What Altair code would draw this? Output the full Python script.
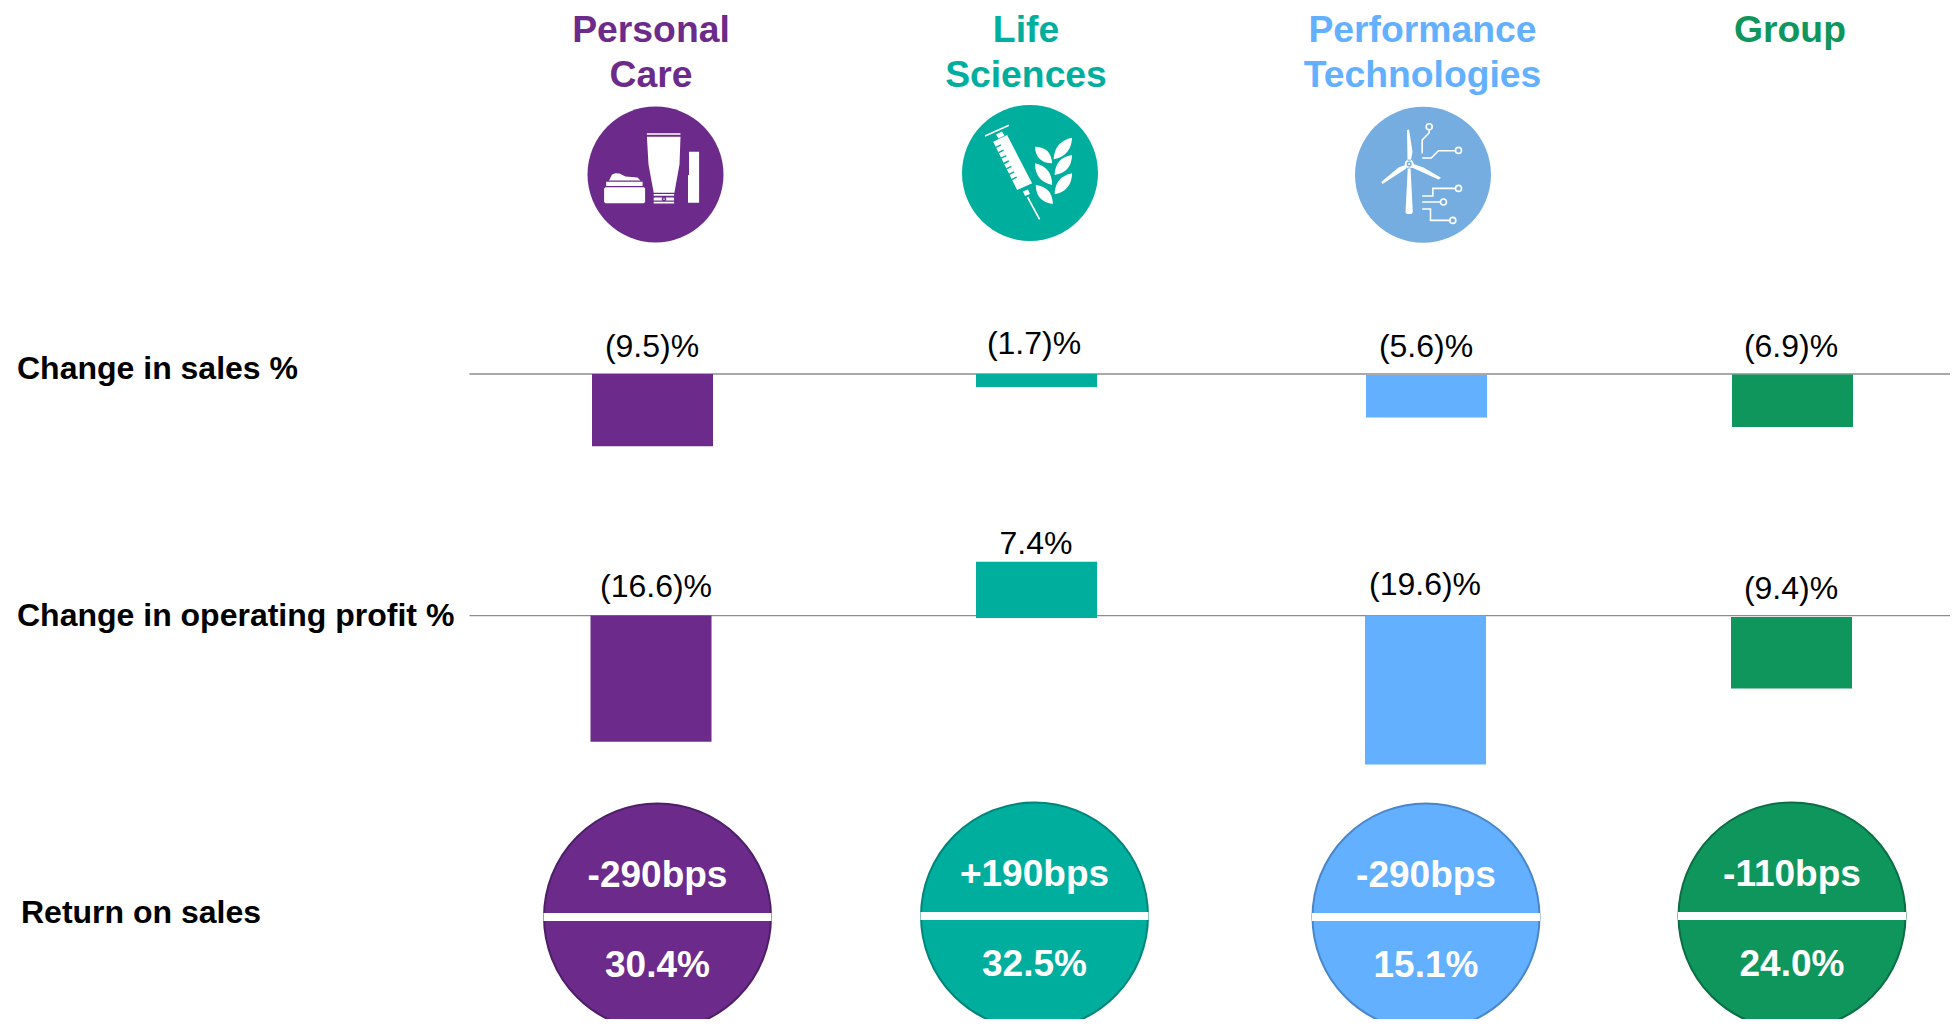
import math
import altair as alt
import pandas as pd

# ---- values ----
SEGMENTS = ["Personal Care", "Life Sciences", "Performance Technologies", "Group"]
TITLES = ["Personal\nCare", "Life\nSciences", "Performance\nTechnologies", "Group"]
SALES_CHANGE = [-9.5, -1.7, -5.6, -6.9]
SALES_TEXT = ["(9.5)%", "(1.7)%", "(5.6)%", "(6.9)%"]
PROFIT_CHANGE = [-16.6, 7.4, -19.6, -9.4]
PROFIT_TEXT = ["(16.6)%", "7.4%", "(19.6)%", "(9.4)%"]
BPS_TEXT = ["-290bps", "+190bps", "-290bps", "-110bps"]
ROS_TEXT = ["30.4%", "32.5%", "15.1%", "24.0%"]
ROW_LABELS = ["Change in sales %", "Change in operating profit %", "Return on sales"]

COLORS = ["#6C2B8A", "#00AE9E", "#62B0FF", "#0F965C"]
RING_COLORS = ["#4E1E68", "#00857A", "#4A86C8", "#0B6E45"]
ICON_COLORS = ["#6C2B8A", "#00AE9E", "#76ADE0"]

FONT = "Liberation Sans"
OFFSET = 8  # page margin


def px(values):
    return [v - OFFSET for v in values]


def x_scale(centres):
    return alt.Scale(domain=list(range(len(centres))), range=px(centres), nice=False, zero=False, padding=0)


def y_by_col(values):
    return alt.Scale(domain=list(range(len(values))), range=px(values), nice=False, zero=False, padding=0)


PX_PER_POINT = 7.6


def value_scale(zero_y):
    # 7.6 px per percentage point in both bar rows
    return alt.Scale(domain=[0, -10], range=px([zero_y, zero_y + 10 * PX_PER_POINT]),
                     nice=False, zero=False, padding=0)


color_enc = alt.Color("segment:N", scale=alt.Scale(domain=SEGMENTS, range=COLORS), legend=None)

frame = pd.DataFrame({
    "col": range(4),
    "segment": SEGMENTS,
    "title": TITLES,
    "sales": SALES_CHANGE,
    "sales_text": SALES_TEXT,
    "profit": PROFIT_CHANGE,
    "profit_text": PROFIT_TEXT,
    "bps": BPS_TEXT,
    "ros": ROS_TEXT,
    "ring": RING_COLORS,
})


# ---- icon outlines, in pixels around each icon's centre ----
def poly(points):
    return "M" + " L".join(f"{x:.1f} {y:.1f}" for x, y in points) + " Z"


def line(points):
    return "M" + " L".join(f"{x:.1f} {y:.1f}" for x, y in points)


def box(x0, y0, x1, y1):
    return poly([(x0, y0), (x1, y0), (x1, y1), (x0, y1)])


def ring(x, y, r):
    return f"M{x + r:.1f} {y:.1f} A{r} {r} 0 1 0 {x - r:.1f} {y:.1f} A{r} {r} 0 1 0 {x + r:.1f} {y:.1f} Z"


def leaf(bx, by, tx, ty, bulge=11):
    mx, my = (bx + tx) / 2, (by + ty) / 2
    dx, dy = tx - bx, ty - by
    n = math.hypot(dx, dy)
    nx, ny = -dy / n * bulge, dx / n * bulge
    return (f"M{bx:.1f} {by:.1f} Q{mx + nx:.1f} {my + ny:.1f} {tx:.1f} {ty:.1f} "
            f"Q{mx - nx:.1f} {my - ny:.1f} {bx:.1f} {by:.1f} Z")


care_fill = " ".join([
    box(-8.6, -41.2, 25, -39.8),
    poly([(-8.6, -37.8), (25, -37.8), (24, -10), (18.9, 18.2), (-1.8, 18.2), (-7, -10)]),
    box(-1.8, 19.5, 18.6, 21.3), box(-1.8, 23, 18.6, 26), box(-1.8, 27.2, 18.6, 29),
    poly([(33.5, -22.8), (43.6, -22.8), (43.6, 28.2), (32.5, 28.2), (32.5, 0.5), (33.5, 0.5)]),
    poly([(-50, 12.8), (-11.5, 12.8), (-10.4, 14), (-10.4, 27.5), (-11.5, 28.8), (-50, 28.8), (-51.4, 27.5), (-51.4, 14)]),
    box(-49.3, 7.2, -12.9, 11.5),
    poly([(-46.4, 6), (-43.5, 0), (-40, -1.3), (-36, -1), (-30, 2), (-18, 3), (-15, 6)]),
])
care_cut = ring(8.5, 24.5, 1.6)

life_fill = " ".join([
    poly([(-36.8, -31.3), (-22.9, -38), (2.1, 10.3), (-12.9, 17)]),
    poly([(-7, 18.5), (-2, 16.5), (0, 21), (-5, 23)]),
    poly([(-34, -38.5), (-28, -41.5), (-25.5, -37.5), (-31.5, -34.5)]),
    leaf(23.6, -13.7, 42.1, -35.3), leaf(22.1, -9.7, 5, -26.3),
    leaf(24.6, 2, 42.1, -18), leaf(22.1, 12, 5, -9.7),
    leaf(24.6, 21.3, 42.1, 0.3), leaf(22.9, 31, 5.7, 12),
])
life_wire = " ".join([line([(-45, -37), (-21, -47.7)]), line([(-2.5, 24), (9.6, 46.3)])])
life_cut = " ".join(
    line([(-35 + 0.44 * t, -27.5 + 0.9 * t), (-30 + 0.44 * t, -30 + 0.9 * t)])
    for t in (2, 8, 14, 20, 26, 32, 38)
)

wind_fill = " ".join([
    poly([(-15.2, -7.3), (-12.5, -7.3), (-10.2, 37.5), (-11.5, 39.3), (-16.2, 39.3), (-17.5, 37.5)]),
    poly([(-16, -44.7), (-14, -45.3), (-10.5, -23), (-12.2, -14), (-15.5, -14)]),
    poly([(-41.8, 7.3), (-40.5, 9.3), (-17, -6), (-17, -10), (-24.5, -7.3)]),
    poly([(-9.5, -10.7), (-11, -7.3), (15.5, 4.7), (18, 3), (0.5, -7.3)]),
    ring(-13.8, -10.7, 4.5),
])
wind_wire = " ".join([
    line([(-0.8, -21.3), (-0.8, -34.7), (6.2, -42), (6.2, -45)]), ring(6.2, -48, 3),
    line([(-0.8, -16.7), (8.2, -16.7), (15.5, -24), (32.5, -24)]), ring(35.5, -24.3, 3),
    line([(-0.8, 21.3), (9.8, 21.3), (9.8, 13.7), (32.5, 13.7)]), ring(35.5, 13.7, 3),
    line([(-0.8, 27.3), (17.5, 27.3)]), ring(20.5, 27.3, 3),
    line([(-0.8, 34.3), (7.5, 34.3), (7.5, 45.7), (26.5, 45.7)]), ring(29.8, 45.7, 3),
])
wind_cut = ring(-13.8, -10.7, 1.8)

icons = pd.DataFrame({
    "col": range(3),
    "segment": SEGMENTS[:3],
    "disc": ICON_COLORS,
    "body": [care_fill, life_fill, wind_fill],
    "wire": ["M0 0", life_wire, wind_wire],
    "cut": [care_cut, life_cut, wind_cut],
})
ICON_X = alt.X("col:Q", scale=x_scale([655.5, 1030, 1423]), axis=None)
ICON_Y = alt.Y("col:Q", scale=y_by_col([174.5, 173, 174.7]), axis=None)


def icon_point(field, **mark):
    return alt.Chart(icons).mark_point(opacity=1, **mark).encode(
        x=ICON_X, y=ICON_Y,
        shape=alt.Shape(f"{field}:N", scale=None, legend=None),
        size=alt.value(4),
    )


layers = []

# header titles
layers.append(alt.Chart(frame).mark_text(
    font=FONT, fontWeight="bold", fontSize=37.3, align="center", baseline="alphabetic",
    lineBreak="\n", lineHeight=45,
).encode(
    x=alt.X("col:Q", scale=x_scale([651, 1026, 1422.5, 1790]), axis=None),
    y=alt.value(41.7 - OFFSET),
    text="title:N",
    color=color_enc,
))

# icons
layers.append(alt.Chart(icons).mark_point(filled=True, opacity=1, shape="circle").encode(
    x=ICON_X, y=ICON_Y,
    size=alt.value(136 * 136),
    fill=alt.Fill("disc:N", scale=None, legend=None),
))
layers.append(icon_point("body", filled=True, fill="white"))
layers.append(icon_point("wire", filled=False, stroke="white", strokeWidth=1.6))
layers.append(alt.Chart(icons).mark_point(filled=False, opacity=1, strokeWidth=1.5).encode(
    x=ICON_X, y=ICON_Y,
    shape=alt.Shape("cut:N", scale=None, legend=None),
    size=alt.value(4),
    stroke=alt.Stroke("disc:N", scale=None, legend=None),
))

# row labels
rows = pd.DataFrame({"row": range(3), "label": ROW_LABELS})
layers.append(alt.Chart(rows).mark_text(
    font=FONT, fontWeight="bold", fontSize=32, align="left", baseline="alphabetic", color="black",
).encode(
    x=alt.X("row:Q", scale=x_scale([17, 17, 21]), axis=None),
    y=alt.Y("row:Q", scale=y_by_col([379, 625.7, 922.5]), axis=None),
    text="label:N",
))


def bar_row(field, text_field, rule_y, bar_zero, bar_x, label_x, label_y):
    out = [alt.Chart(frame.head(1)).mark_rule(color="#8C8C8C", strokeWidth=1.3).encode(
        x=alt.value(469.5 - OFFSET),
        x2=alt.value(1958),
        y=alt.Y(datum=0, scale=value_scale(rule_y), axis=None),
    )]
    # each bar has its own zero line: the reference's bars sit up to 2.5 px off the rule
    for i, zero_y in enumerate(bar_zero):
        out.append(alt.Chart(frame.iloc[[i]]).mark_bar(size=121, orient="vertical").encode(
            x=alt.X("col:Q", scale=x_scale(bar_x), axis=None),
            y=alt.Y(f"{field}:Q", scale=value_scale(zero_y), axis=None),
            y2=alt.Y2(datum=0),
            color=color_enc,
        ))
    out.append(alt.Chart(frame).mark_text(
        font=FONT, fontSize=32, align="center", baseline="alphabetic", color="black",
    ).encode(
        x=alt.X("col:Q", scale=x_scale(label_x), axis=None),
        y=alt.Y("col:Q", scale=y_by_col(label_y), axis=None),
        text=f"{text_field}:N",
    ))
    return out


layers += bar_row("sales", "sales_text", 374, [374, 374, 375, 374.5],
                  [652.5, 1036.5, 1426.5, 1792.5], [652, 1034, 1426, 1791],
                  [357.3, 353.5, 356.5, 356.5])
layers += bar_row("profit", "profit_text", 615.7, [615.5, 618, 615.5, 617],
                  [651, 1036.5, 1425.5, 1791.5], [656, 1036, 1425, 1791],
                  [596.7, 553.5, 595, 599])

# return-on-sales discs
DISC_X = alt.X("col:Q", scale=x_scale([657.5, 1034.5, 1426, 1792]), axis=None)
DISC_Y = alt.Y("col:Q", scale=y_by_col([917, 916, 917, 916]), axis=None)

layers.append(alt.Chart(frame).mark_point(filled=True, opacity=1, shape="circle", strokeWidth=2).encode(
    x=DISC_X, y=DISC_Y,
    size=alt.value(227 * 227),
    color=color_enc,
    stroke=alt.Stroke("ring:N", scale=None, legend=None),
))
layers.append(alt.Chart(frame).mark_tick(
    orient="horizontal", size=228, thickness=8, color="white", opacity=1,
).encode(x=DISC_X, y=DISC_Y))
for field, shift in (("bps", -30.5), ("ros", 59.5)):
    layers.append(alt.Chart(frame).mark_text(
        font=FONT, fontWeight="bold", fontSize=37, align="center", baseline="alphabetic",
        color="white", dy=shift,
    ).encode(x=DISC_X, y=DISC_Y, text=f"{field}:N"))

chart = alt.layer(*layers).resolve_scale(
    x="independent", y="independent", color="independent",
).properties(
    width=1942, height=1011, padding=0,
    autosize=alt.AutoSizeParams(type="none", contains="padding"),
    background="white",
).configure_view(stroke=None)

chart.save("out.html", embed_options={"renderer": "svg", "actions": False})
